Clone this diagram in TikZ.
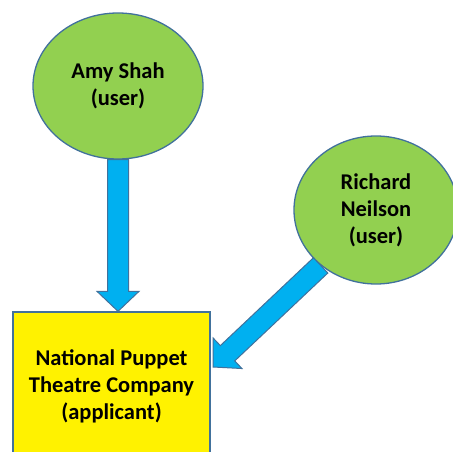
\documentclass[tikz,border=0pt]{standalone}
\usepackage{fontspec}
\setmainfont{Carlito}
\usetikzlibrary{calc,shapes.geometric}

\definecolor{usergreen}{HTML}{92D050}
\definecolor{edgeblue}{HTML}{41719C}
\definecolor{arrowblue}{HTML}{00B0F0}

% fat block arrow: #1 name, #2 start, #3 tip
\newcommand{\fatarrow}[3]{%
  \coordinate (#1b) at ($(#3)!20pt!(#2)$);
  \filldraw[fat arrow] ($(#2)!10.5pt!90:(#3)$) -- ($(#1b)!10.5pt!-90:(#2)$)
    -- ($(#1b)!21pt!-90:(#2)$) -- (#3) -- ($(#1b)!21pt!90:(#2)$)
    -- ($(#1b)!10.5pt!90:(#2)$) -- ($(#2)!10.5pt!-90:(#3)$) -- cycle;}

\begin{document}
\begin{tikzpicture}[x=1pt,y=-1pt,line width=1.3pt,
  user node/.style={ellipse,fill=usergreen,draw=edgeblue,align=center,inner sep=0pt,
    font=\fontsize{22.5}{27}\selectfont\bfseries},
  app node/.style={rectangle,fill=yellow,draw=edgeblue,align=center,inner sep=0pt,
    font=\fontsize{22.5}{27}\selectfont\bfseries},
  fat arrow/.style={fill=arrowblue,draw=edgeblue,line width=1pt,line join=miter}]

  \useasboundingbox (0,0) rectangle (453,452);
  \clip (0,0) rectangle (453,452);

  \node[user node,minimum width=170pt,minimum height=146pt] (amy) at (118,86) {Amy Shah\\(user)};
  \node[user node,minimum width=164pt,minimum height=148pt] (richard) at (376,210) {Richard\\Neilson\\(user)};
  \node[app node,minimum width=197pt,minimum height=148pt] (npt) at (111.5,386)
    {National Puppet\\Theatre Company\\(applicant)};

  \coordinate (tip1) at (amy.south |- npt.north);
  \coordinate (tip2) at (213,367);
  \fatarrow{a1}{amy.south}{tip1}
  \fatarrow{a2}{richard.225}{tip2}
\end{tikzpicture}
\end{document}
